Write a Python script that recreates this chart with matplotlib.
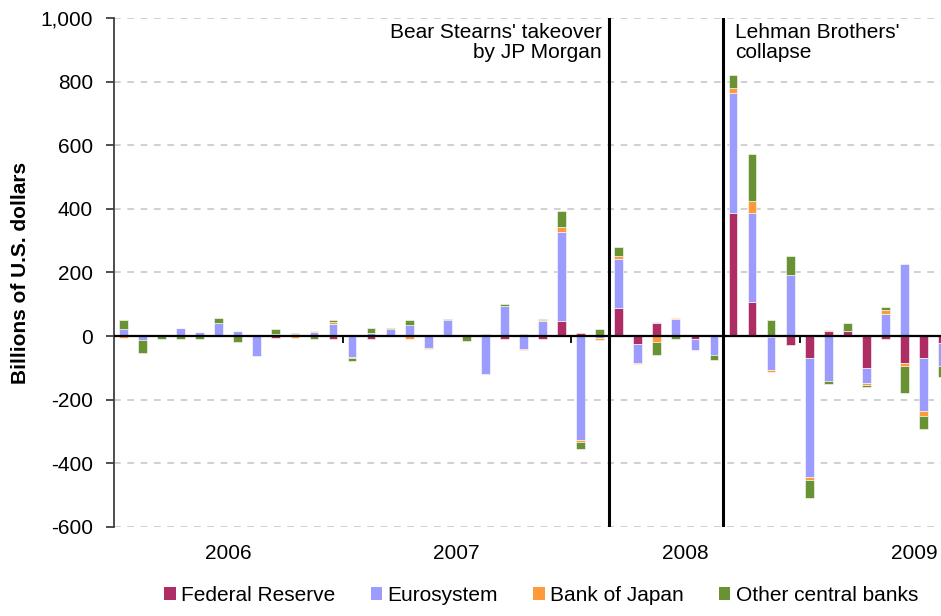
import matplotlib
matplotlib.use('Agg')
import matplotlib.pyplot as plt
import numpy as np
from matplotlib.ticker import FuncFormatter
from matplotlib.patches import Patch

plt.rcParams['font.family'] = ['Liberation Sans', 'DejaVu Sans']

# monthly changes, Jan 2006 .. Aug 2009 (billions of U.S. dollars)
fed = [0, 0, 0, 0, 0, 0, 0, 0, -7, 0, 0, -8,
       0, -9, 0, 0, 0, 0, 0, 0, -9, 0, -9, 46,
       10, 0, 87, -24, 41, 0, -8, 0, 388, 107, -3, -29,
       -70, 15, 16, -100, -8, -86, -70, -23]
euro = [22, -12, 0, 26, 12, 42, 17, -64, 8, 7, 12, 37,
        -65, 10, 21, 36, -36, 50, 6, -120, 95, -42, 48, 282,
        -325, -6, 156, -60, 4, 53, -36, -60, 377, 281, -105, 192,
        -373, -142, 0, -47, 71, 228, -166, -71]
boj = [-6, 0, 5, 0, 0, 0, 0, 0, 0, -7, 4, 6,
       -4, 0, 0, -8, -4, 0, 0, 0, 0, -3, 4, 15,
       -8, -5, 9, -5, -19, 4, 0, 0, 15, 36, -6, 0,
       -8, 4, 0, -7, 10, -8, -16, 0]
other = [29, -41, -8, -8, -8, 15, -18, 0, 14, 4, -8, 9,
         -8, 15, 4, 15, 0, 5, -14, 6, 5, 6, 3, 50,
         -22, 21, 29, 5, -40, -8, 0, -15, 41, 150, 51, 60,
         -59, -7, 24, -5, 9, -86, -40, -34]

series = [('Federal Reserve', fed, '#AE2D64'),
          ('Eurosystem', euro, '#9C9CFF'),
          ('Bank of Japan', boj, '#FF9A3C'),
          ('Other central banks', other, '#699232')]

years = ['2006', '2007', '2008', '2009']
events = [(26, "Bear Stearns' takeover\nby JP Morgan", 'right'),
          (32, "Lehman Brothers'\ncollapse", 'left')]

fig = plt.figure(figsize=(9.41, 6.16), dpi=100)
ax = fig.add_axes([0.1211, 0.1445, 0.8789, 0.8263])

x = np.arange(len(fed)) + 0.5
pos_base = np.zeros(len(fed))
neg_base = np.zeros(len(fed))
for name, vals, col in series:
    v = np.array(vals, dtype=float)
    bottom = np.where(v >= 0, pos_base, neg_base)
    ax.bar(x, v, 0.46, bottom=bottom, color=col, edgecolor='white',
           linewidth=0.4, zorder=3)
    pos_base += np.where(v > 0, v, 0)
    neg_base += np.where(v < 0, v, 0)

ymin, ymax = -600, 1000
ax.set_ylim(ymin, ymax)
ax.set_xlim(0, 43.42)
ax.set_yticks(np.arange(ymin, ymax + 1, 200))
ax.yaxis.set_major_formatter(FuncFormatter(lambda v, p: f'{int(v):,}'))
ax.yaxis.grid(True, color='#C8C8C8', linestyle=(0, (4, 4)), linewidth=1.2, zorder=0)
ax.axhline(0, color='black', linewidth=1.6, zorder=4)

for xe, txt, ha in events:
    ax.axvline(xe, color='black', linewidth=2.2, zorder=5)
    off = -0.4 if ha == 'right' else 0.6
    ax.text(xe + off, 985, txt, ha=ha, va='top', fontsize=15, linespacing=1.05)

for s in ['top', 'right', 'bottom']:
    ax.spines[s].set_visible(False)
ax.spines['left'].set_color('#404040')
ax.spines['left'].set_linewidth(1.3)
ax.tick_params(axis='y', labelsize=15, length=6, width=1.3, color='#404040', pad=9)

ax.set_xticks(np.arange(len(years)) * 12 + 6)
ax.set_xticklabels(years)
ax.tick_params(axis='x', labelsize=15, length=0, pad=12)

# year boundary ticks on the zero line
sec = ax.secondary_xaxis(-ymin / (ymax - ymin))
sec.set_xticks([12, 24, 36])
sec.set_xticklabels([])
sec.tick_params(axis='x', length=5, width=1.3, direction='out', color='black')
sec.spines['bottom'].set_visible(False)

ax.set_ylabel('Billions of U.S. dollars', fontsize=15, fontweight='bold', labelpad=8)

handles = [Patch(facecolor=c, label=n) for n, _, c in series]
fig.legend(handles=handles, loc='lower center', bbox_to_anchor=(0.575, -0.012),
           ncol=4, frameon=False, fontsize=15, handlelength=0.55, handleheight=0.55,
           handletextpad=0.25, columnspacing=1.7)

fig.savefig('out.png', dpi=100)
